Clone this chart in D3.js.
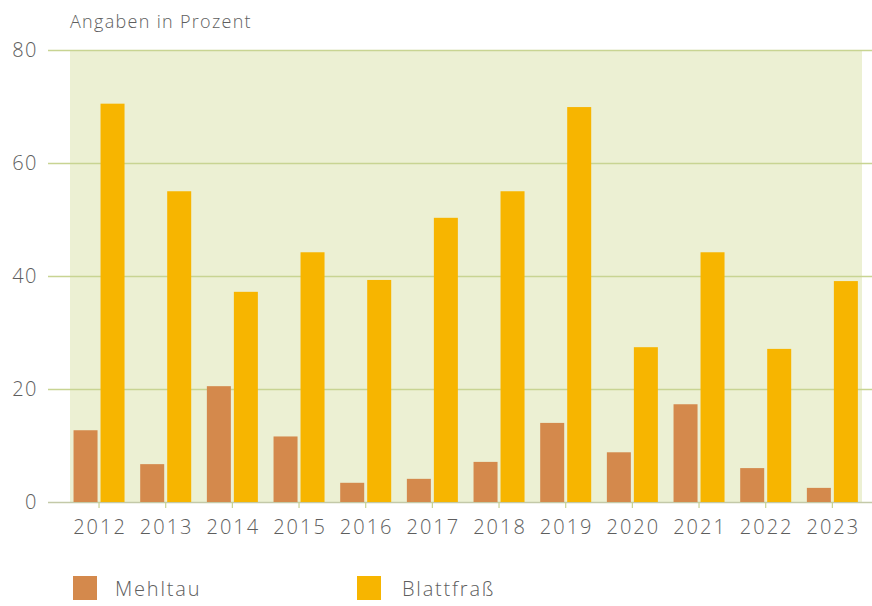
<!DOCTYPE html>
<html>
<head>
<meta charset="utf-8">
<script src="https://cdn.jsdelivr.net/npm/d3@7"></script>
<style>
  html, body { margin: 0; padding: 0; background: #ffffff; }
  svg { display: block; }
  text { font-family: "Open Sans", Lato, sans-serif; fill: #5e5e5e; font-weight: 300; }
</style>
</head>
<body>
<svg id="chart" width="872" height="606"></svg>
<script>
// Jahre und Anteile (Prozent) je Schadensart
const years = ["2012", "2013", "2014", "2015", "2016", "2017", "2018", "2019", "2020", "2021", "2022", "2023"];
const mehltau = [12.7, 6.7, 20.5, 11.6, 3.4, 4.1, 7.1, 14.0, 8.8, 17.3, 6.0, 2.5];
const blattfrass = [70.5, 55.0, 37.2, 44.2, 39.3, 50.3, 55.0, 69.9, 27.4, 44.2, 27.1, 39.1];
const seriesNames = ["Mehltau", "Blattfraß"];
const seriesColors = ["#d4894c", "#f7b500"];
const yTicks = [0, 20, 40, 60, 80];

const svg = d3.select("#chart");

const y = d3.scaleLinear().domain([0, 80]).range([502, 50]);
const x0 = d3.scaleBand().domain(years).range([65.7, 865.7]).padding(0);
const x1 = d3.scaleBand().domain(seriesNames)
  .range([0, 51]).paddingInner(3 / 27).paddingOuter(0);
const groupOffset = (x0.bandwidth() - 51) / 2;

// Hintergrundfläche des Diagramms
svg.append("rect")
  .attr("x", 70).attr("y", y(80))
  .attr("width", 792).attr("height", y(0) - y(80))
  .attr("fill", "#ecf0d3");

// Gitterlinien und Beschriftung der y-Achse
const yAxis = svg.append("g")
  .attr("transform", "translate(48,0)")
  .call(d3.axisRight(y).tickValues(yTicks).tickSize(824).tickFormat(""));
yAxis.select(".domain").remove();
yAxis.selectAll(".tick line")
  .attr("stroke", d => d === 0 ? "#c3c9a8" : "#c8d492")
  .attr("stroke-width", 1.6);

svg.append("g").selectAll("text")
  .data(yTicks).join("text")
  .attr("x", 38).attr("y", d => y(d))
  .attr("dy", "0.36em")
  .attr("text-anchor", "end")
  .attr("font-size", 20)
  .attr("letter-spacing", "1.5px")
  .text(d => d);

// Balken
const data = years.map((yr, i) => ({ year: yr, values: [mehltau[i], blattfrass[i]] }));
const groups = svg.append("g").selectAll("g")
  .data(data).join("g")
  .attr("transform", d => `translate(${x0(d.year) + groupOffset},0)`);
groups.selectAll("rect")
  .data(d => d.values.map((v, k) => ({ name: seriesNames[k], value: v, k })))
  .join("rect")
  .attr("x", d => x1(d.name))
  .attr("width", x1.bandwidth())
  .attr("y", d => y(d.value))
  .attr("height", d => y(0) - y(d.value))
  .attr("fill", d => seriesColors[d.k]);

// x-Achse
const xAxis = svg.append("g")
  .attr("transform", `translate(0,${y(0)})`)
  .call(d3.axisBottom(x0).tickSize(6).tickPadding(12));
xAxis.select(".domain").remove();
xAxis.selectAll(".tick line").attr("stroke", "#c8d492").attr("stroke-width", 1.2);
xAxis.selectAll(".tick text")
  .attr("font-size", 20)
  .attr("font-weight", 300)
  .attr("font-family", "'Open Sans', Lato, sans-serif")
  .attr("fill", "#5e5e5e")
  .attr("letter-spacing", "2px")
  .attr("dx", "1px");

// Einheit
svg.append("text")
  .attr("x", 70).attr("y", 28)
  .attr("font-size", 18)
  .attr("letter-spacing", "1.3px")
  .text("Angaben in Prozent");

// Legende
const legendX = [73, 357];
const legend = svg.append("g").selectAll("g")
  .data(seriesNames).join("g")
  .attr("transform", (d, i) => `translate(${legendX[i]},576)`);
legend.append("rect")
  .attr("width", 24).attr("height", 24)
  .attr("fill", (d, i) => seriesColors[i]);
legend.append("text")
  .attr("x", (d, i) => i === 0 ? 42 : 45).attr("y", 20)
  .attr("font-size", 20)
  .attr("letter-spacing", "1.8px")
  .text(d => d);
</script>
</body>
</html>
